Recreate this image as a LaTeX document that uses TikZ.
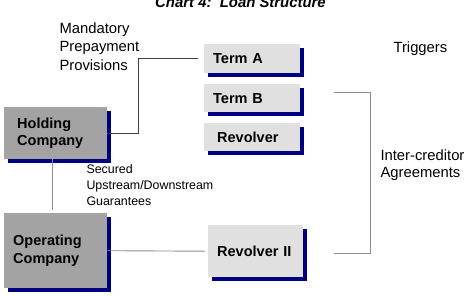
\documentclass[tikz,border=0pt]{standalone}
\usepackage{fontspec}
\setmainfont{Liberation Sans}
\usetikzlibrary{shadows}

\definecolor{boxlight}{RGB}{224,224,224}
\definecolor{boxdark}{RGB}{163,163,163}
\definecolor{navyshadow}{RGB}{0,0,128}

\begin{document}
\begin{tikzpicture}[
        x=1pt, y=-1pt,
        loanbox/.style={anchor=north west, fill=boxlight, inner xsep=9pt, inner ysep=0pt, align=left,
            font=\bfseries\fontsize{14.5}{17.5}\selectfont,
            general shadow={fill=navyshadow, shadow xshift=4pt, shadow yshift=-3.5pt}},
        companybox/.style={loanbox, fill=boxdark},
        note/.style={anchor=base west, align=left, font=\fontsize{14.8}{18.3}\selectfont},
        smallnote/.style={anchor=base west, align=left, font=\fontsize{12.4}{15.6}\selectfont},
        link/.style={draw=black!75, line width=0.8pt},
        bracket/.style={draw=black!45, line width=0.9pt}
    ]
    \useasboundingbox (0,0) rectangle (470,295);

    % Title
    \node (title) [anchor=base, font=\bfseries\itshape\fontsize{14.9}{18}\selectfont] at (240.5,7) {Chart 4:\ \ Loan Structure};

    % Facilities
    \node (termA) [loanbox, minimum width=96pt, minimum height=29pt, text width=78pt] at (204,44) {Term A};
    \node (termB) [loanbox, minimum width=96pt, minimum height=28pt, text width=78pt] at (204,84) {Term B};
    \node (revolver) [loanbox, minimum width=96pt, minimum height=28pt, inner xsep=13pt, text width=70pt] at (204,123) {Revolver};
    \node (revii) [loanbox, minimum width=95pt, minimum height=52pt, text width=77pt] at (208,225) {Revolver II};

    % Companies
    \node (holding) [companybox, minimum width=103pt, minimum height=52pt, inner xsep=13pt, text width=77pt] at (4,107) {Holding\\Company};
    \node (operating) [companybox, minimum width=103pt, minimum height=75pt, text width=85pt] at (4,213) {Operating\\Company};

    % Labels (placed by the baseline of their last line)
    \node (mandatory) [note] at (56,70) {Mandatory\\Prepayment\\Provisions};
    \node (triggers) [note] at (390,52) {Triggers};
    \node (intercred) [note, font=\fontsize{14.8}{16.5}\selectfont] at (377,177) {Inter-creditor\\Agreements};
    \node (guarantees) [smallnote] at (83,205) {Secured\\Upstream/Downstream\\Guarantees};

    % Lines
    \draw [link] ([xshift=-6pt]termA.west) -- ++(-60,0) |- (holding.east);
    \draw [bracket] ([xshift=-3pt]holding.south) -- ([xshift=-3pt,yshift=3pt]operating.north);
    \draw [bracket] (operating.east) -- ([xshift=-3pt]revii.west);
    \draw [bracket] ([xshift=34pt,yshift=6pt]termB.east) -- ++(36,0) |- ([xshift=31pt,yshift=-2pt]revii.east);
\end{tikzpicture}
\end{document}
